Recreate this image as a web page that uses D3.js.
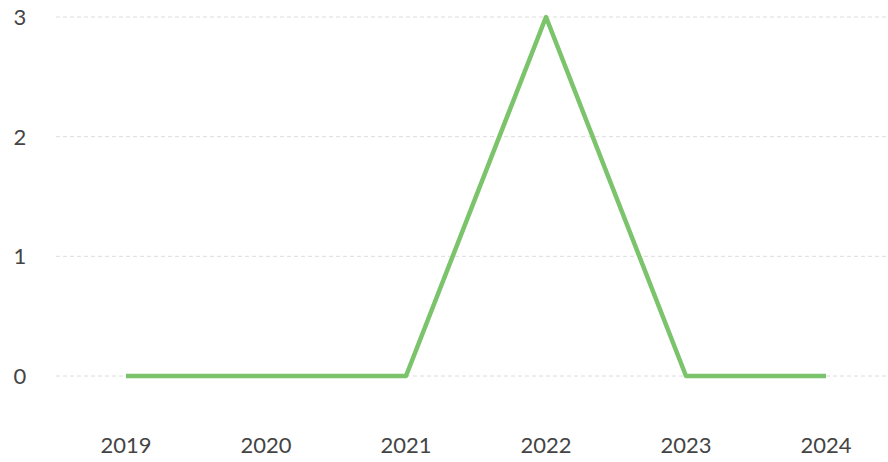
<!DOCTYPE html>
<html>
<head>
<meta charset="utf-8">
<script src="https://cdn.jsdelivr.net/npm/d3@7"></script>
<style>
  body { margin: 0; background: #fff; }
  text { font-family: Lato, "Open Sans", sans-serif; fill: #444; }
</style>
</head>
<body>
<div class="container"></div>
<script>
var years = ['2019', '2020', '2021', '2022', '2023', '2024'];
var values = [0, 0, 0, 3, 0, 0];
var yTicks = [0, 1, 2, 3];

var width = 888, height = 462;

var svg = d3.select('.container').append('svg')
    .attr('width', width).attr('height', height);

var x = d3.scalePoint().domain(years).range([56, 896]).padding(0.5);
var y = d3.scaleLinear().domain([0, 3]).range([376, 17]);

// gridlines
svg.append('g').selectAll('line')
   .data(yTicks)
   .enter().append('line')
   .attr('x1', 56).attr('x2', width)
   .attr('y1', function (d) { return y(d); })
   .attr('y2', function (d) { return y(d); })
   .attr('stroke', '#dcdcdc')
   .attr('stroke-width', 1)
   .attr('stroke-dasharray', '4,3');

// y labels
svg.append('g').selectAll('text')
   .data(yTicks)
   .enter().append('text')
   .attr('x', 20)
   .attr('y', function (d) { return y(d); })
   .attr('dy', '0.36em')
   .attr('text-anchor', 'middle')
   .style('font-size', '22px')
   .text(function (d) { return d; });

// x labels
svg.append('g').selectAll('text')
   .data(years)
   .enter().append('text')
   .attr('x', function (d) { return x(d); })
   .attr('y', 453)
   .attr('text-anchor', 'middle')
   .style('font-size', '22px')
   .text(function (d) { return d; });

var line = d3.line()
    .x(function (d, i) { return x(years[i]); })
    .y(function (d) { return y(d); });

svg.append('path')
   .datum(values)
   .attr('d', line)
   .attr('fill', 'none')
   .attr('stroke', '#7bc46b')
   .attr('stroke-width', 4.5)
   .attr('stroke-linejoin', 'round');
</script>
</body>
</html>
